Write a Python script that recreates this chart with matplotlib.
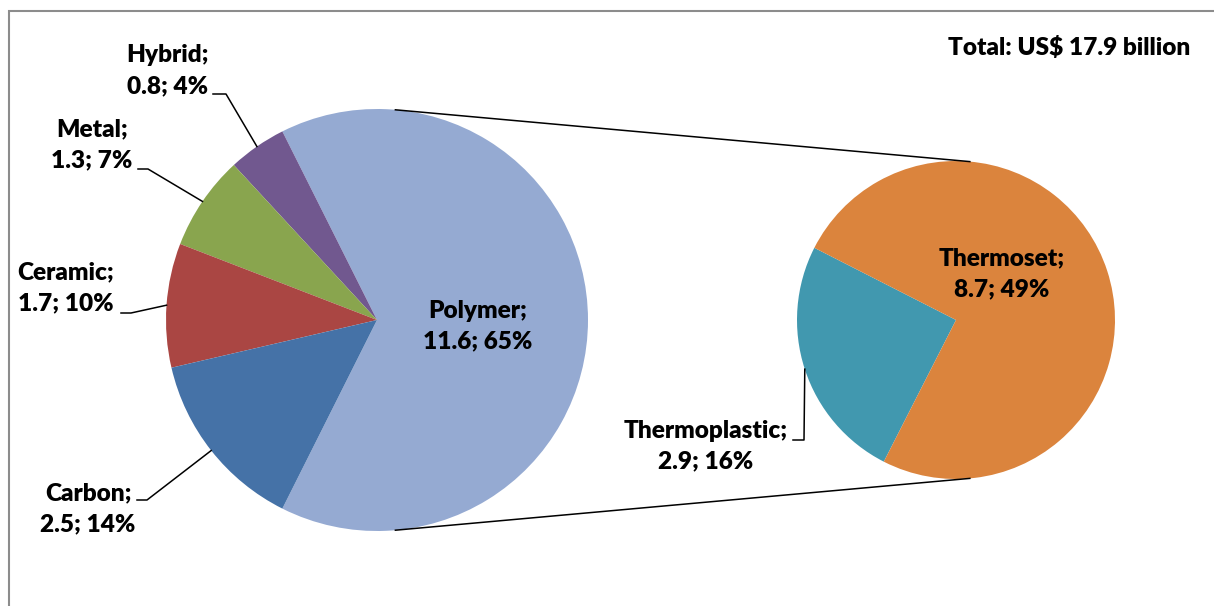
import numpy as np
import matplotlib.pyplot as plt
from matplotlib.patches import Rectangle

# data (US$ billion)
names = ['Polymer', 'Hybrid', 'Metal', 'Ceramic', 'Carbon']
values = [11.6, 0.8, 1.3, 1.7, 2.5]
shares = [65, 4, 7, 10, 14]
colors = ['#95aad2', '#71588f', '#89a54e', '#aa4643', '#4572a7']

sub_names = ['Thermoplastic', 'Thermoset']
sub_values = [2.9, 8.7]
sub_shares = [16, 49]
sub_colors = ['#4198af', '#db843d']

total_text = 'Total: US$ 17.9 billion'

W, H = 1214, 606
plt.rcParams['font.family'] = ['Lato', 'DejaVu Sans']
fs = 17.6
fw = 'heavy'
ls = 1.5

fig = plt.figure(figsize=(W / 100, H / 100), dpi=100)
ax = fig.add_axes([0, 0, 1, 1])

# main pie, polymer slice centred on the right side
c1, r1 = (377, H - 320), 211
polymer_angle = 360 * values[0] / sum(values)
start1 = -polymer_angle / 2
ax.pie(values, colors=colors, startangle=start1, counterclock=True,
       center=c1, radius=r1, wedgeprops=dict(linewidth=0))

# second pie (polymer split)
c2, r2 = (956, H - 320), 159
start2 = 153
ax.pie(sub_values, colors=sub_colors, startangle=start2, counterclock=True,
       center=c2, radius=r2, wedgeprops=dict(linewidth=0))

ax.set_xlim(0, W)
ax.set_ylim(0, H)
ax.set_aspect('equal')
ax.axis('off')


def edge_point(center, r, ang):
    a = np.radians(ang)
    return center[0] + r * np.cos(a), center[1] + r * np.sin(a)


# connector lines between the pies
for a in (85, -85):
    p1 = edge_point(c1, r1, a)
    p2 = edge_point(c2, r2, a)
    ax.plot([p1[0], p2[0]], [p1[1], p2[1]], color='black', lw=1.1)

# mid angles of the slices
cum = np.cumsum([0] + values)
mid1 = start1 + 360 * (cum[:-1] + np.array(values) / 2) / sum(values)
cum2 = np.cumsum([0] + sub_values)
mid2 = start2 + 360 * (cum2[:-1] + np.array(sub_values) / 2) / sum(sub_values)


def label(name, val, pct):
    return f'{name};\n{val}; {pct}%'


# inside labels
ax.text(478, H - 326, label(names[0], values[0], shares[0]), ha='center', va='center',
        fontsize=fs, fontweight=fw, linespacing=ls)
ax.text(1002, H - 274, label(sub_names[1], sub_values[1], sub_shares[1]), ha='center',
        va='center', fontsize=fs, fontweight=fw, linespacing=ls)

# outside labels: text position, elbow start, elbow end
outside = {
    1: ((168, H - 71), (213, H - 94), (226, H - 94)),
    2: ((92, H - 145), (138, H - 169), (148, H - 169)),
    3: ((66, H - 288), (121, H - 313), (131, H - 313)),
    4: ((88, H - 509), (137, H - 500), (147, H - 500)),
}
for i, (txt, e0, e1) in outside.items():
    ax.text(txt[0], txt[1], label(names[i], values[i], shares[i]), ha='center',
            va='center', fontsize=fs, fontweight=fw, linespacing=ls)
    p = edge_point(c1, r1, mid1[i])
    ax.plot([e0[0], e1[0], p[0]], [e0[1], e1[1], p[1]], color='black', lw=1.1)

ax.text(706, H - 446, label(sub_names[0], sub_values[0], sub_shares[0]), ha='center',
        va='center', fontsize=fs, fontweight=fw, linespacing=ls)
p = edge_point(c2, r2, mid2[0])
ax.plot([793, 804, p[0]], [H - 440, H - 440, p[1]], color='black', lw=1.1)

ax.text(1190, H - 47, total_text, ha='right', va='center', fontsize=fs, fontweight=fw)

# chart border (cut off on right and bottom)
ax.add_patch(Rectangle((9, -20), 1400, H - 11 + 20, fill=False, edgecolor='#8c8c8c',
                       lw=1.5, clip_on=False))

fig.savefig('out.png', dpi=100)
